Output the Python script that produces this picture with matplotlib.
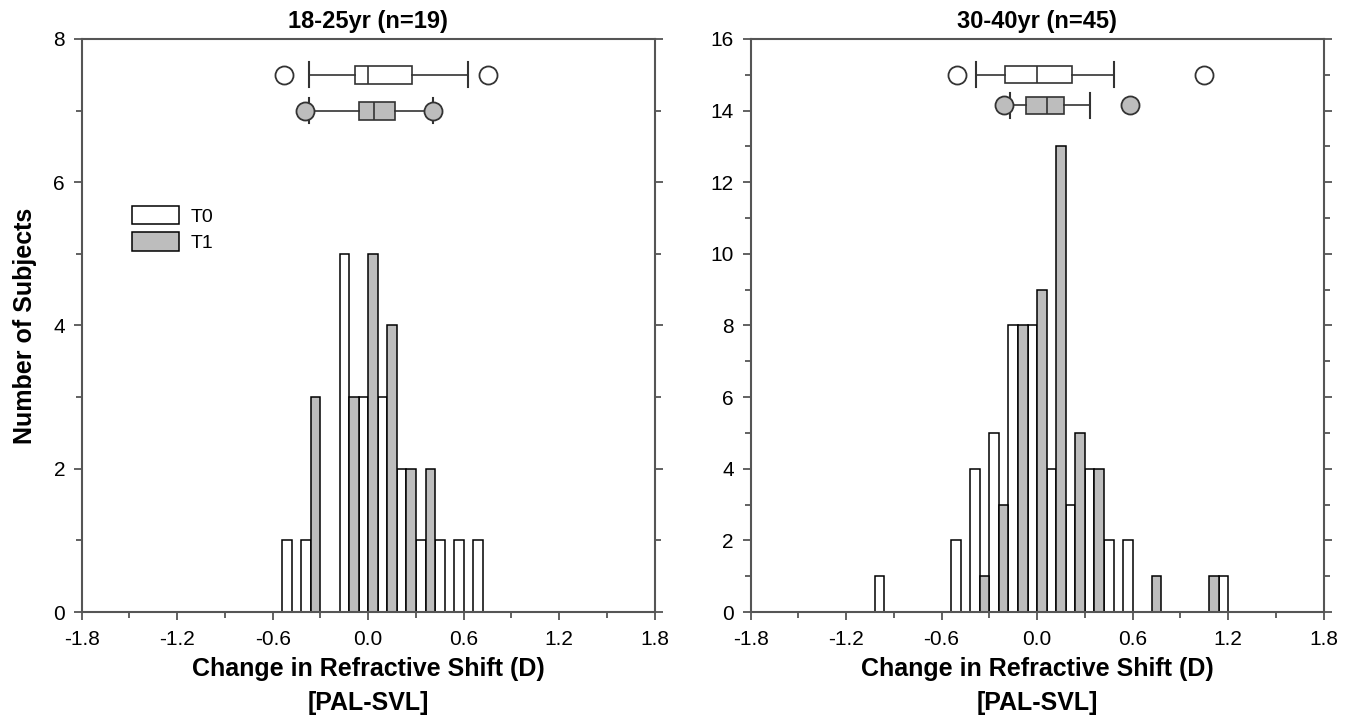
import matplotlib
matplotlib.use("Agg")
import matplotlib.pyplot as plt
from matplotlib.patches import Patch
from matplotlib.ticker import MultipleLocator, FormatStrFormatter

plt.rcParams['font.family'] = ['Liberation Sans', 'DejaVu Sans']

# bin centres (D) and counts
young_t0_x = [-0.48, -0.36, -0.12, 0.0, 0.12, 0.24, 0.36, 0.48, 0.60, 0.72]
young_t0_n = [1, 1, 5, 3, 3, 2, 1, 1, 1, 1]
young_t1_x = [-0.36, -0.12, 0.0, 0.12, 0.24, 0.36]
young_t1_n = [3, 3, 5, 4, 2, 2]

old_t0_x = [-0.96, -0.48, -0.36, -0.24, -0.12, 0.0, 0.12, 0.24, 0.36, 0.48, 0.60, 1.20]
old_t0_n = [1, 2, 4, 5, 8, 8, 4, 3, 4, 2, 2, 1]
old_t1_x = [-0.36, -0.24, -0.12, 0.0, 0.12, 0.24, 0.36, 0.72, 1.08]
old_t1_n = [1, 3, 8, 9, 13, 5, 4, 1, 1]

# box plot summaries: whislo, q1, med, q3, whishi, outliers
young_box_t0 = [-0.372, -0.083, 0.0, 0.276, 0.624, [-0.529, 0.75]]
young_box_t1 = [-0.372, -0.058, 0.036, 0.168, 0.404, [-0.40, 0.404]]
old_box_t0 = [-0.385, -0.205, 0.0, 0.216, 0.48, [-0.505, 1.047]]
old_box_t1 = [-0.172, -0.067, 0.065, 0.167, 0.335, [-0.209, 0.586]]

titles = ["18-25yr (n=19)", "30-40yr (n=45)"]
grey = "#bdbdbd"
spine_col = "#555555"
half = 0.06


def stats(v):
    return dict(whislo=v[0], q1=v[1], med=v[2], q3=v[3], whishi=v[4], fliers=v[5])


def panel(ax, t0x, t0n, t1x, t1n, box0, box1, ymax, rows, bw, cw, title):
    ax.bar(t0x, t0n, width=-half, align='edge', color='white', edgecolor='black', lw=1.1)
    ax.bar(t1x, t1n, width=half, align='edge', color=grey, edgecolor='black', lw=1.1)
    for v, y, fc in [(box0, rows[0], 'white'), (box1, rows[1], grey)]:
        ax.bxp([stats(v)], positions=[y], widths=bw, capwidths=cw,
               orientation='horizontal', patch_artist=True, manage_ticks=False,
               boxprops=dict(facecolor=fc, edgecolor='#333333', lw=1.2),
               medianprops=dict(color='#333333', lw=1.2),
               whiskerprops=dict(color='#333333', lw=1.2),
               capprops=dict(color='#333333', lw=1.5),
               flierprops=dict(marker='o', markersize=13, markerfacecolor=fc,
                               markeredgecolor='#333333', markeredgewidth=1.3))
    ax.set_xlim(-1.8, 1.8)
    ax.set_ylim(0, ymax)
    ax.xaxis.set_major_locator(MultipleLocator(0.6))
    ax.xaxis.set_minor_locator(MultipleLocator(0.3))
    ax.xaxis.set_major_formatter(FormatStrFormatter('%.1f'))
    ax.yaxis.set_major_locator(MultipleLocator(2))
    ax.yaxis.set_minor_locator(MultipleLocator(1))
    ax.tick_params(which='both', direction='out', color=spine_col, width=1.3,
                   right=True, labelsize=15)
    ax.tick_params(which='major', length=6)
    ax.tick_params(which='minor', length=4)
    ax.tick_params(axis='x', which='major', pad=7)
    ax.tick_params(axis='y', which='major', pad=6)
    for s in ax.spines.values():
        s.set_color(spine_col)
        s.set_linewidth(1.5)
    ax.set_title(title, fontsize=17, fontweight='bold', pad=8)
    ax.set_xlabel("Change in Refractive Shift (D)\n[PAL-SVL]", fontsize=18,
                  fontweight='bold', linespacing=1.5, labelpad=6)


fig = plt.figure(figsize=(13.5, 7.19), dpi=100)
ax1 = fig.add_axes([0.0605, 0.1488, 0.4245, 0.797])
ax2 = fig.add_axes([0.556, 0.1488, 0.4245, 0.797])

panel(ax1, young_t0_x, young_t0_n, young_t1_x, young_t1_n,
      young_box_t0, young_box_t1, 8, (7.5, 7.0), 0.25, 0.35, titles[0])
panel(ax2, old_t0_x, old_t0_n, old_t1_x, old_t1_n,
      old_box_t0, old_box_t1, 16, (15.0, 14.15), 0.47, 0.7, titles[1])

ax1.set_ylabel("Number of Subjects", fontsize=18, fontweight='bold', labelpad=12)

handles = [Patch(facecolor='white', edgecolor='black', lw=1.1, label='T0'),
           Patch(facecolor=grey, edgecolor='black', lw=1.1, label='T1')]
ax1.legend(handles=handles, loc='upper left', bbox_to_anchor=(0.0877, 0.7086),
           frameon=False, fontsize=14, handlelength=2.4, handleheight=1.08,
           labelspacing=0.34, handletextpad=0.6, borderpad=0, borderaxespad=0)

fig.savefig("out.png", dpi=100)
